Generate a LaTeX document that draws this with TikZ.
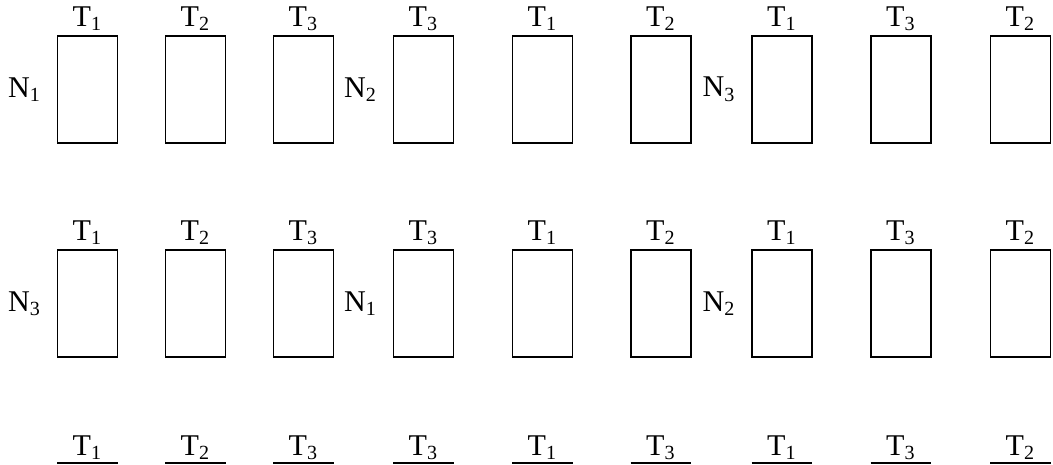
\documentclass[tikz,border=0pt]{standalone}
\usepackage{fontspec}
\setmainfont{Liberation Serif}
\usetikzlibrary{positioning}

\begin{document}
\begin{tikzpicture}[x=0.014cm, y=-0.014cm,
  font=\fontsize{12}{14}\selectfont,
  slot/.style={rectangle, draw, line width=0.7pt, minimum width=0.84cm,
               minimum height=1.5cm, inner sep=0pt},
  tlab/.style={inner sep=0pt},
  nlab/.style={inner sep=0pt},
  order/.style={anchor=base, inner sep=0pt, minimum width=0.84cm},
  rule/.style={line width=0.8pt},
]
  \useasboundingbox (0,0) rectangle (1053,465);

  % first schedule
  \node[slot] (a1) at (87.5,89.5) {};
  \node[slot] (a2) at (195.5,89.5) {};
  \node[slot] (a3) at (303.5,89.5) {};
  \node[slot] (a4) at (423.5,89.5) {};
  \node[slot] (a5) at (542.5,89.5) {};
  \node[slot] (a6) at (661,89.5) {};
  \node[slot] (a7) at (782,89.5) {};
  \node[slot] (a8) at (901,89.5) {};
  \node[slot] (a9) at (1020.5,89.5) {};
  \node[tlab, above=1.5pt of a1] (ta1) {T\textsubscript{1}};
  \node[tlab, above=1.5pt of a2] (ta2) {T\textsubscript{2}};
  \node[tlab, above=1.5pt of a3] (ta3) {T\textsubscript{3}};
  \node[tlab, above=1.5pt of a4] (ta4) {T\textsubscript{3}};
  \node[tlab, above=1.5pt of a5] (ta5) {T\textsubscript{1}};
  \node[tlab, above=1.5pt of a6] (ta6) {T\textsubscript{2}};
  \node[tlab, above=1.5pt of a7] (ta7) {T\textsubscript{1}};
  \node[tlab, above=1.5pt of a8] (ta8) {T\textsubscript{3}};
  \node[tlab, above=1.5pt of a9] (ta9) {T\textsubscript{2}};
  \node[nlab, left=6pt of a1] (na1) {N\textsubscript{1}};
  \node[nlab, left=6pt of a4] (na4) {N\textsubscript{2}};
  \node[nlab, left=6pt of a7] (na7) {N\textsubscript{3}};

  % second schedule
  \node[slot] (b1) at (87.5,303.5) {};
  \node[slot] (b2) at (195.5,303.5) {};
  \node[slot] (b3) at (303.5,303.5) {};
  \node[slot] (b4) at (423.5,303.5) {};
  \node[slot] (b5) at (542.5,303.5) {};
  \node[slot] (b6) at (661,303.5) {};
  \node[slot] (b7) at (782,303.5) {};
  \node[slot] (b8) at (901,303.5) {};
  \node[slot] (b9) at (1020.5,303.5) {};
  \node[tlab, above=1.5pt of b1] (tb1) {T\textsubscript{1}};
  \node[tlab, above=1.5pt of b2] (tb2) {T\textsubscript{2}};
  \node[tlab, above=1.5pt of b3] (tb3) {T\textsubscript{3}};
  \node[tlab, above=1.5pt of b4] (tb4) {T\textsubscript{3}};
  \node[tlab, above=1.5pt of b5] (tb5) {T\textsubscript{1}};
  \node[tlab, above=1.5pt of b6] (tb6) {T\textsubscript{2}};
  \node[tlab, above=1.5pt of b7] (tb7) {T\textsubscript{1}};
  \node[tlab, above=1.5pt of b8] (tb8) {T\textsubscript{3}};
  \node[tlab, above=1.5pt of b9] (tb9) {T\textsubscript{2}};
  \node[nlab, left=6pt of b1] (nb1) {N\textsubscript{3}};
  \node[nlab, left=6pt of b4] (nb4) {N\textsubscript{1}};
  \node[nlab, left=6pt of b7] (nb7) {N\textsubscript{2}};

  % resulting order
  \node[order] (c1) at (87.5,455) {T\textsubscript{1}};
  \node[order] (c2) at (195.5,455) {T\textsubscript{2}};
  \node[order] (c3) at (303.5,455) {T\textsubscript{3}};
  \node[order] (c4) at (423.5,455) {T\textsubscript{3}};
  \node[order] (c5) at (542.5,455) {T\textsubscript{1}};
  \node[order] (c6) at (661,455) {T\textsubscript{3}};
  \node[order] (c7) at (782,455) {T\textsubscript{1}};
  \node[order] (c8) at (901,455) {T\textsubscript{3}};
  \node[order] (c9) at (1020.5,455) {T\textsubscript{2}};
  \draw[rule] ([yshift=-3.2pt]c1.base west) -- ([yshift=-3.2pt]c1.base east);
  \draw[rule] ([yshift=-3.2pt]c2.base west) -- ([yshift=-3.2pt]c2.base east);
  \draw[rule] ([yshift=-3.2pt]c3.base west) -- ([yshift=-3.2pt]c3.base east);
  \draw[rule] ([yshift=-3.2pt]c4.base west) -- ([yshift=-3.2pt]c4.base east);
  \draw[rule] ([yshift=-3.2pt]c5.base west) -- ([yshift=-3.2pt]c5.base east);
  \draw[rule] ([yshift=-3.2pt]c6.base west) -- ([yshift=-3.2pt]c6.base east);
  \draw[rule] ([yshift=-3.2pt]c7.base west) -- ([yshift=-3.2pt]c7.base east);
  \draw[rule] ([yshift=-3.2pt]c8.base west) -- ([yshift=-3.2pt]c8.base east);
  \draw[rule] ([yshift=-3.2pt]c9.base west) -- ([yshift=-3.2pt]c9.base east);
\end{tikzpicture}
\end{document}
